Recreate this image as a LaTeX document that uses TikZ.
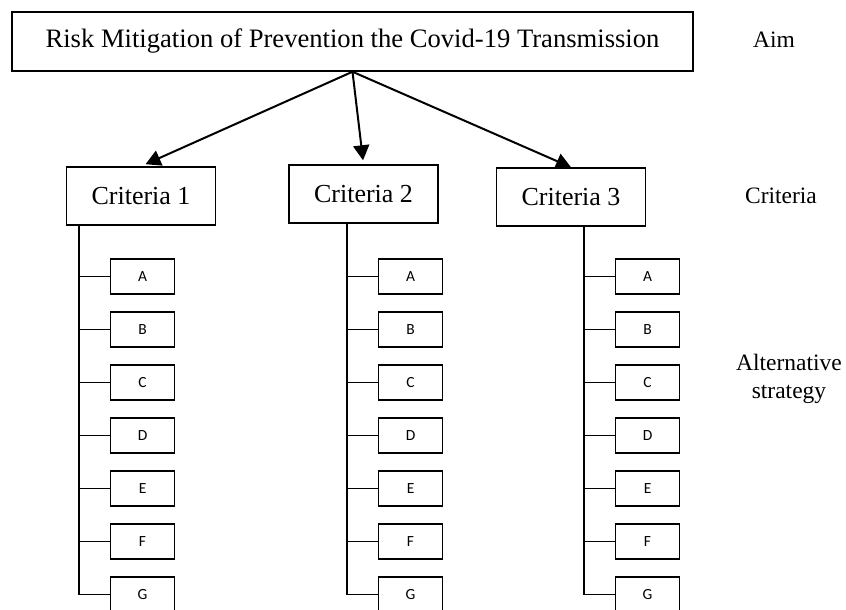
\documentclass[tikz,border=0pt]{standalone}
\usepackage{fontspec}
\setmainfont{Liberation Serif}
\newfontfamily\altfont{Carlito}
\usetikzlibrary{arrows.meta}
\tikzset{
  box/.style={draw,line width=1.5pt,inner sep=0pt,font=\fontsize{26}{30}\selectfont},
  altbox/.style={draw,line width=1.1pt,minimum width=64pt,minimum height=35pt,inner sep=0pt,font=\altfont\fontsize{15.5}{18}\selectfont},
  link/.style={line width=2pt,-{Triangle[length=15pt,width=16pt]}},
  trunk/.style={line width=1.1pt},
  side/.style={font=\fontsize{23.5}{28}\selectfont,align=center}
}
\begin{document}
\begin{tikzpicture}[x=1pt,y=-1pt]
    \useasboundingbox (0,0) rectangle (846,610);
    \node[box,minimum width=681pt,minimum height=59pt,font=\fontsize{26.6}{30}\selectfont] (aim) at (352.5,41.5) {Risk Mitigation of Prevention the Covid-19 Transmission};
    \foreach \c/\x/\y in {1/141/196,2/363.5/194,3/571/197}{
      \node[box,minimum width=149pt,minimum height=58pt] (c\c) at (\x,\y) {Criteria \c};
    }
    \draw[link,shorten >=5pt] (aim.south) -- (c1.north);
    \draw[link,shorten >=4pt] (aim.south) -- (c2.north);
    \draw[link] (aim.south) -- (c3.north);
    \foreach \c/\tx in {1/79,2/347,3/584}{
      \foreach \l [count=\k from 0] in {A,...,G}{
        \pgfmathsetmacro\ty{276.5+53*\k}
        \coordinate (j\c\l) at (\tx,\ty);
        \node[altbox,anchor=west] (a\c\l) at (\tx+31,\ty) {\l};
        \draw[trunk] (j\c\l) -- (a\c\l);
      }
      \draw[trunk] (c\c.south -| j\c A) -- (j\c G);
    }
    \node[side] (laim) at (774,40) {Aim};
    \node[side] (lcrit) at (781,196) {Criteria};
    \node[side] (lalt) at (789,379) {Alternative\\strategy};
  \end{tikzpicture}
\end{document}
